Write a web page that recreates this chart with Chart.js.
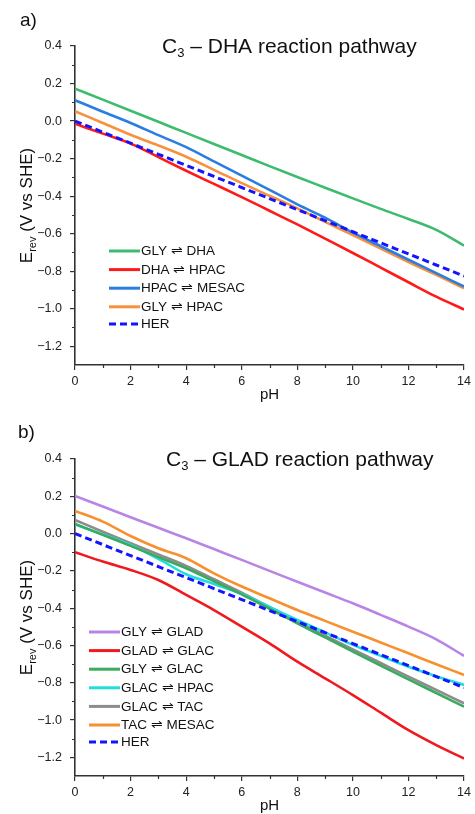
<!DOCTYPE html>
<html>
<head>
<meta charset="utf-8">
<script src="https://cdn.jsdelivr.net/npm/chart.js@4.4.1/dist/chart.umd.min.js"></script>
<style>
  html, body { margin: 0; padding: 0; background: #fff; }
  #wa { position: absolute; left: 0; top: 0; width: 475px; height: 405px; }
  #wb { position: absolute; left: 0; top: 410px; width: 475px; height: 404px; }
</style>
</head>
<body>
<div id="wa"><canvas id="ca"></canvas></div>
<div id="wb"><canvas id="cb"></canvas></div>
<script>
// ---------- DATA ----------
const pH = [0, 1, 2, 3, 4, 5, 6, 7, 8, 9, 10, 11, 12, 13, 14];

// Panel a) C3 – DHA reaction pathway
const glyDha    = [0.173, 0.114, 0.055, -0.004, -0.063, -0.122, -0.181, -0.240, -0.298, -0.355, -0.412, -0.468, -0.522, -0.580, -0.664];
const dhaHpac   = [-0.014, -0.067, -0.120, -0.192, -0.265, -0.335, -0.405, -0.478, -0.551, -0.627, -0.703, -0.781, -0.859, -0.936, -1.004];
const hpacMesac = [0.111, 0.050, -0.010, -0.075, -0.139, -0.215, -0.291, -0.367, -0.444, -0.515, -0.595, -0.667, -0.739, -0.810, -0.882];
const glyHpac   = [0.052, -0.010, -0.073, -0.130, -0.190, -0.260, -0.331, -0.398, -0.465, -0.537, -0.608, -0.680, -0.751, -0.820, -0.891];
const her       = [0, -0.059, -0.118, -0.177, -0.236, -0.295, -0.354, -0.413, -0.472, -0.531, -0.590, -0.649, -0.708, -0.767, -0.826];

// Panel b) C3 – GLAD reaction pathway
const glyGlad   = [0.202, 0.145, 0.088, 0.031, -0.025, -0.083, -0.141, -0.200, -0.258, -0.316, -0.374, -0.436, -0.499, -0.567, -0.656];
const gladGlac  = [-0.100, -0.150, -0.195, -0.249, -0.329, -0.410, -0.499, -0.589, -0.687, -0.776, -0.866, -0.960, -1.054, -1.134, -1.206];
const glyGlac   = [0.052, -0.007, -0.066, -0.126, -0.186, -0.256, -0.326, -0.403, -0.481, -0.557, -0.633, -0.708, -0.782, -0.855, -0.928];
const glacHpac  = [0.050, -0.005, -0.061, -0.135, -0.218, -0.270, -0.324, -0.393, -0.463, -0.530, -0.597, -0.656, -0.714, -0.765, -0.812];
const glacTac   = [0.073, 0.010, -0.052, -0.112, -0.173, -0.245, -0.317, -0.395, -0.472, -0.547, -0.621, -0.694, -0.767, -0.838, -0.910];
const tacMesac  = [0.122, 0.064, -0.013, -0.079, -0.132, -0.213, -0.284, -0.347, -0.410, -0.468, -0.526, -0.584, -0.642, -0.701, -0.758];

const labelsA = ["GLY \u21CC DHA", "DHA \u21CC HPAC", "HPAC \u21CC MESAC", "GLY \u21CC HPAC", "HER"];
const labelsB = ["GLY \u21CC GLAD", "GLAD \u21CC GLAC", "GLY \u21CC GLAC", "GLAC \u21CC HPAC", "GLAC \u21CC TAC", "TAC \u21CC MESAC", "HER"];

const xTicks = [0, 2, 4, 6, 8, 10, 12, 14];
const xMinor = [1, 3, 5, 7, 9, 11, 13];
const yTicks = [0.4, 0.2, 0.0, -0.2, -0.4, -0.6, -0.8, -1.0, -1.2];
const yTickLabels = ["0.4", "0.2", "0.0", "\u22120.2", "\u22120.4", "\u22120.6", "\u22120.8", "\u22121.0", "\u22121.2"];
const yMinor = [0.3, 0.1, -0.1, -0.3, -0.5, -0.7, -0.9, -1.1];

const titleA = ["C", "3", " \u2013 DHA reaction pathway"];
const titleB = ["C", "3", " \u2013 GLAD reaction pathway"];

// ---------- HELPERS ----------
const FONT = "'Liberation Sans', Arial, sans-serif";
const AX = '#333333';

function pts(arr) { return pH.map((x, i) => ({ x: x, y: arr[i] })); }

function ds(label, arr, color, dashed) {
  return {
    label: label,
    data: pts(arr),
    borderColor: color,
    backgroundColor: color,
    borderWidth: dashed ? 3 : 2.6,
    borderDash: dashed ? [7, 4] : [],
    pointRadius: 0,
    tension: 0.25,
    cubicInterpolationMode: 'monotone',
    order: dashed ? -1 : 0,
    fill: false
  };
}

function textPlugin(cfg) {
  return {
    id: 'texts',
    afterDraw(chart) {
      const ctx = chart.ctx;
      const ca = chart.chartArea;
      const xs = chart.scales.x, ys = chart.scales.y;
      ctx.save();
      // minor ticks
      ctx.strokeStyle = AX;
      ctx.lineWidth = 1.2;
      ctx.beginPath();
      yMinor.forEach(v => {
        const y = Math.round(ys.getPixelForValue(v)) + 0.5;
        ctx.moveTo(ca.left - 3, y); ctx.lineTo(ca.left, y);
      });
      xMinor.forEach(v => {
        const x = Math.round(xs.getPixelForValue(v)) + 0.5;
        ctx.moveTo(x, ca.bottom); ctx.lineTo(x, ca.bottom + 3);
      });
      ctx.stroke();

      // panel letter
      ctx.fillStyle = '#111';
      ctx.font = '19px ' + FONT;
      ctx.textBaseline = 'middle';
      ctx.textAlign = 'left';
      ctx.fillText(cfg.letter, cfg.letterX, cfg.letterY);

      // title with subscript
      const t = cfg.title;
      let x = cfg.titleX;
      const by = ca.top + 7;
      ctx.textBaseline = 'alphabetic';
      ctx.font = '21px ' + FONT;
      ctx.fillText(t[0], x, by); x += ctx.measureText(t[0]).width;
      ctx.font = '13px ' + FONT;
      ctx.fillText(t[1], x, by + 4); x += ctx.measureText(t[1]).width;
      ctx.font = '21px ' + FONT;
      ctx.fillText(t[2], x, by);

      // y axis title rotated
      ctx.save();
      const cy = (ca.top + ca.bottom) / 2;
      ctx.translate(32, cy);
      ctx.rotate(-Math.PI / 2);
      ctx.font = '17px ' + FONT;
      const w1 = ctx.measureText('E').width;
      ctx.font = '11px ' + FONT;
      const w2 = ctx.measureText('rev').width;
      ctx.font = '17px ' + FONT;
      const w3 = ctx.measureText(' (V vs SHE)').width;
      let sx = -(w1 + w2 + w3) / 2;
      ctx.fillStyle = '#111';
      ctx.fillText('E', sx, 0); sx += w1;
      ctx.font = '11px ' + FONT;
      ctx.fillText('rev', sx, 4); sx += w2;
      ctx.font = '17px ' + FONT;
      ctx.fillText(' (V vs SHE)', sx, 0);
      ctx.restore();

      // x axis title
      ctx.font = '15px ' + FONT;
      ctx.textAlign = 'center';
      ctx.textBaseline = 'middle';
      ctx.fillStyle = '#111';
      ctx.fillText('pH', (ca.left + ca.right) / 2, ca.bottom + cfg.phOffset);

      // legend
      ctx.textAlign = 'left';
      ctx.font = '13.5px ' + FONT;
      chart.data.datasets.forEach((d, i) => {
        const ly = cfg.legY + i * cfg.legStep - (d.borderDash.length && i > 0 ? 1.5 : 0);
        ctx.save();
        ctx.strokeStyle = d.borderColor;
        ctx.lineWidth = 3;
        ctx.setLineDash(d.borderDash.length ? [7, 4] : []);
        ctx.beginPath();
        ctx.moveTo(cfg.legX, ly); ctx.lineTo(cfg.legX + 31, ly);
        ctx.stroke();
        ctx.restore();
        ctx.fillStyle = '#111';
        ctx.fillText(d.label, cfg.legX + 32, ly + 0.5);
      });
      ctx.restore();
    }
  };
}

function makeOptions(pad, xH) {
  return {
    responsive: true,
    maintainAspectRatio: false,
    animation: false,
    layout: { padding: pad },
    plugins: { legend: { display: false }, tooltip: { enabled: false }, title: { display: false } },
    scales: {
      x: {
        type: 'linear', min: 0, max: 14,
        afterFit(s) { s.height = xH; },
        afterBuildTicks(s) { s.ticks = xTicks.map(v => ({ value: v })); },
        grid: { display: true, drawOnChartArea: false, drawTicks: true, tickLength: 5, color: AX, lineWidth: 1.2 },
        border: { display: true, color: AX, width: 1.6 },
        ticks: { color: '#222', font: { family: FONT, size: 12.5 }, padding: 4, maxRotation: 0, autoSkip: false,
                 callback: v => String(v) }
      },
      y: {
        type: 'linear', min: -1.3, max: 0.4,
        afterFit(s) { s.width = 75; },
        afterBuildTicks(s) { s.ticks = yTicks.map(v => ({ value: v })); },
        grid: { display: true, drawOnChartArea: false, drawTicks: true, tickLength: 5, color: AX, lineWidth: 1.2 },
        border: { display: true, color: AX, width: 1.6 },
        ticks: { color: '#222', font: { family: FONT, size: 12.5 }, padding: 8, autoSkip: false,
                 callback: v => { const i = yTicks.findIndex(t => Math.abs(t - v) < 1e-6); return i >= 0 ? yTickLabels[i] : ''; } }
      }
    }
  };
}

new Chart(document.getElementById('ca'), {
  type: 'line',
  data: {
    datasets: [
      ds(labelsA[0], glyDha, '#3dbb6f', false),
      ds(labelsA[1], dhaHpac, '#ff1a1a', false),
      ds(labelsA[2], hpacMesac, '#2a7de1', false),
      ds(labelsA[3], glyHpac, '#f7913d', false),
      ds(labelsA[4], her, '#1414ff', true)
    ]
  },
  options: makeOptions({ left: 0, right: 6, top: 46, bottom: 0 }, 40),
  plugins: [textPlugin({ letter: 'a)', letterX: 20, letterY: 21, title: titleA, titleX: 162,
                         phOffset: 30, legX: 109, legY: 251, legStep: 18.6 })]
});

new Chart(document.getElementById('cb'), {
  type: 'line',
  data: {
    datasets: [
      ds(labelsB[0], glyGlad, '#b985e5', false),
      ds(labelsB[1], gladGlac, '#f0191e', false),
      ds(labelsB[2], glyGlac, '#3aab5e', false),
      ds(labelsB[3], glacHpac, '#1fdede', false),
      ds(labelsB[4], glacTac, '#8c8c8c', false),
      ds(labelsB[5], tacMesac, '#f7902e', false),
      ds(labelsB[6], her, '#1414ff', true)
    ]
  },
  options: makeOptions({ left: 0, right: 6, top: 49, bottom: 0 }, 38),
  plugins: [textPlugin({ letter: 'b)', letterX: 18, letterY: 23, title: titleB, titleX: 166,
                         phOffset: 30, legX: 89, legY: 222, legStep: 18.6 })]
});
</script>
</body>
</html>
